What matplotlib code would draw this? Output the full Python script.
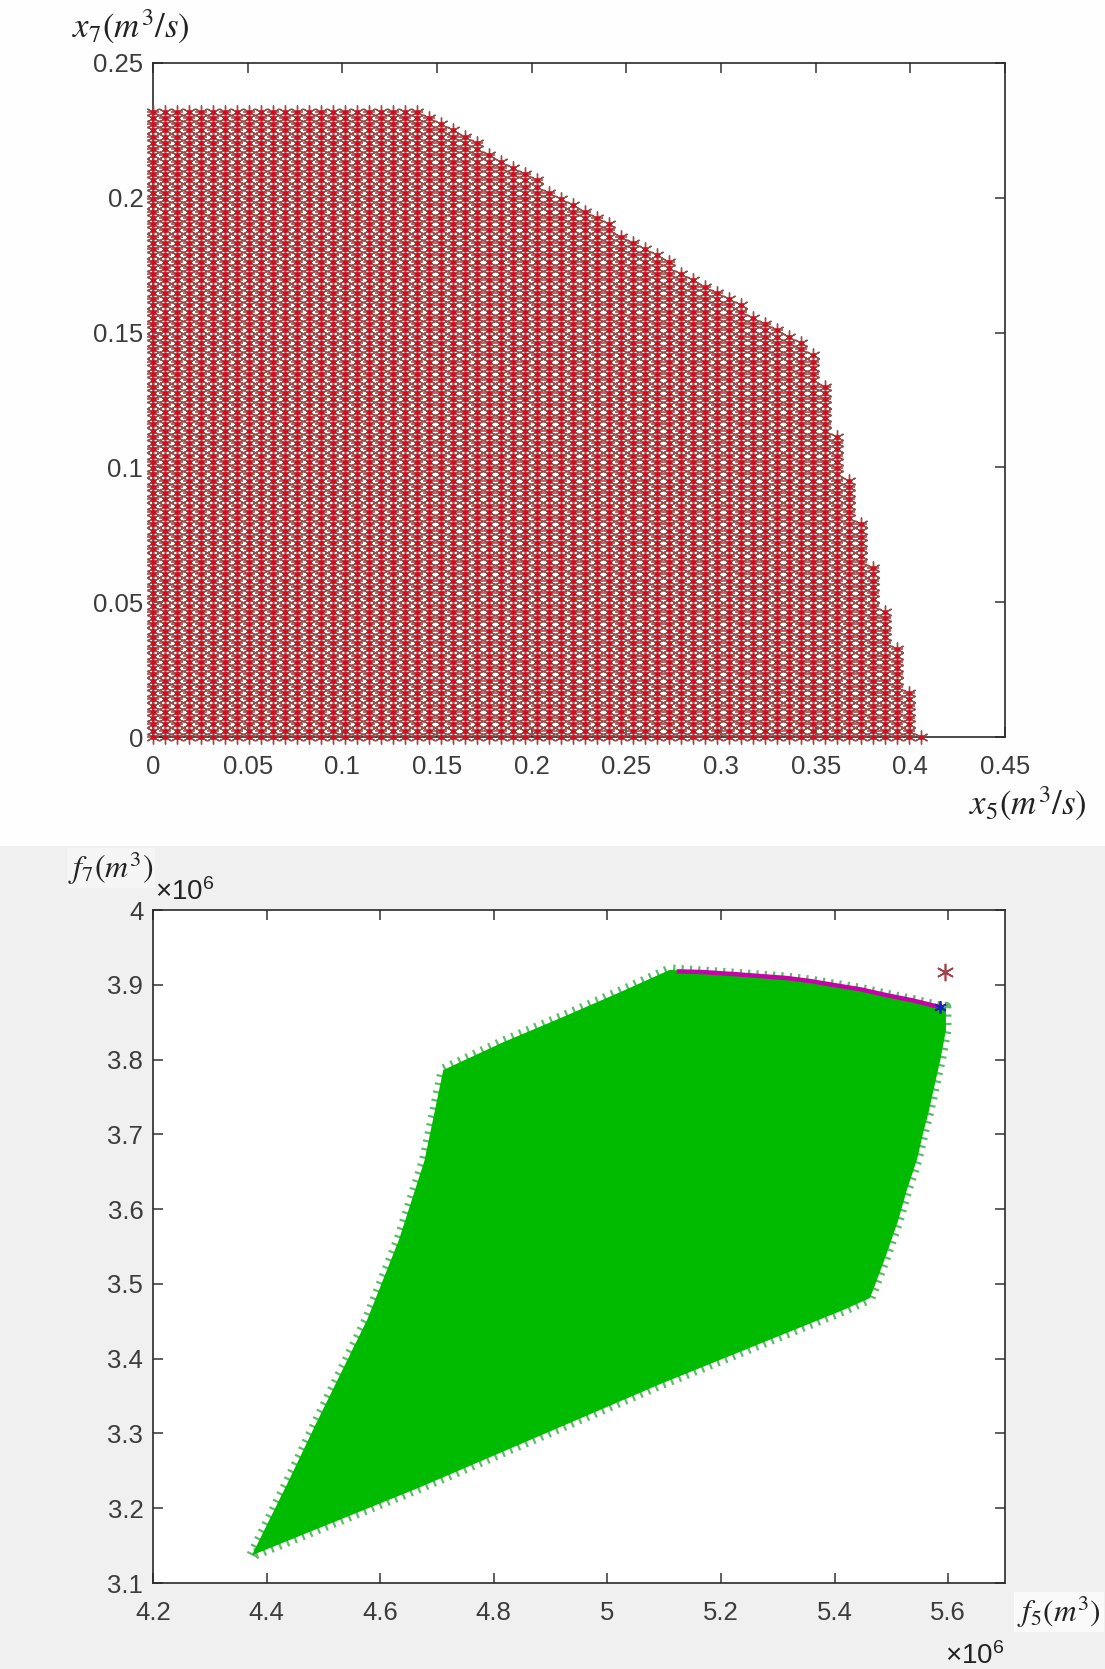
import numpy as np
import matplotlib
matplotlib.use('Agg')
import matplotlib.pyplot as plt
from matplotlib.patches import Rectangle

plt.rcParams['font.family'] = ['Liberation Sans', 'DejaVu Sans']
plt.rcParams['mathtext.fontset'] = 'stix'

W, H = 1105, 1669
TEXT = '#3c3c3c'

# top chart: feasible grid, rows missing from the top of each x5 column
x5_step = 0.00634
x7_step = 0.00232
x7_rows = 100
col_drop = [0] * 23 + [1, 2, 3, 4, 5, 7, 8, 9, 10, 11, 13, 14, 15, 16, 17, 18,
                       20, 21, 22, 23, 24, 26, 27, 28, 29, 30, 31, 33, 34, 35,
                       36, 37, 39, 44, 52, 59, 66, 73, 80, 86, 93, 100]
top_xticks = [0, 0.05, 0.1, 0.15, 0.2, 0.25, 0.3, 0.35, 0.4, 0.45]
top_xlabels = ['0', '0.05', '0.1', '0.15', '0.2', '0.25', '0.3', '0.35', '0.4', '0.45']
top_yticks = [0, 0.05, 0.1, 0.15, 0.2, 0.25]
top_ylabels = ['0', '0.05', '0.1', '0.15', '0.2', '0.25']

# bottom chart: outline of the objective cloud (units of 1e6 m3)
cloud_f5 = [4.374, 4.441, 4.485, 4.577, 4.633, 4.678, 4.711, 4.816, 4.922,
            5.022, 5.110, 5.168, 5.228, 5.316, 5.357, 5.404, 5.445, 5.492, 5.538,
            5.586, 5.596, 5.596, 5.586, 5.575, 5.565, 5.556, 5.545, 5.527, 5.512,
            5.492, 5.468, 5.462, 5.415, 5.093, 4.670, 4.374]
cloud_f7 = [3.137, 3.240, 3.310, 3.452, 3.559, 3.665, 3.786, 3.823, 3.857,
            3.890, 3.920, 3.917, 3.914, 3.909, 3.905, 3.899, 3.894, 3.886, 3.879,
            3.870, 3.870, 3.839, 3.799, 3.762, 3.728, 3.702, 3.666, 3.625, 3.585,
            3.541, 3.492, 3.481, 3.465, 3.366, 3.228, 3.137]
front_f5 = [5.122, 5.168, 5.228, 5.316, 5.357, 5.404, 5.445, 5.492, 5.538, 5.586]
front_f7 = [3.918, 3.917, 3.914, 3.909, 3.905, 3.899, 3.894, 3.886, 3.879, 3.870]
ideal_f5, ideal_f7 = 5.594, 3.917
chosen_f5, chosen_f7 = 5.586, 3.870
bot_xticks = [4.2, 4.4, 4.6, 4.8, 5, 5.2, 5.4, 5.6]
bot_xlabels = ['4.2', '4.4', '4.6', '4.8', '5', '5.2', '5.4', '5.6']
bot_yticks = [3.1, 3.2, 3.3, 3.4, 3.5, 3.6, 3.7, 3.8, 3.9, 4]
bot_ylabels = ['3.1', '3.2', '3.3', '3.4', '3.5', '3.6', '3.7', '3.8', '3.9', '4']

star = (6, 2, 0)

fig = plt.figure(figsize=(W / 100, H / 100), dpi=100, facecolor='#fefefe')
fig.add_artist(Rectangle((0, 0), 1, 1 - 846 / H, transform=fig.transFigure,
                         facecolor='#f0f0f0', edgecolor='none', zorder=-5))


def setup(ax, xticks, xlabels, yticks, ylabels):
    ax.set_xticks(xticks, xlabels)
    ax.set_yticks(yticks, ylabels)
    ax.tick_params(axis='x', direction='in', length=7, width=1.1, top=True, color='#333333',
                   labelsize=18.5, labelcolor=TEXT, pad=13)
    ax.tick_params(axis='y', direction='in', length=7, width=1.1, right=True, color='#333333',
                   labelsize=18.5, labelcolor=TEXT, pad=7)
    for s in ax.spines.values():
        s.set_linewidth(1.2)
        s.set_color('#2a2a2a')


# top chart
ax1 = fig.add_axes([153 / W, 1 - 737 / H, 852 / W, 674 / H])
xs = []
ys = []
for k, drop in enumerate(col_drop):
    for r in range(x7_rows - drop + 1):
        xs.append(k * x5_step)
        ys.append(r * x7_step)
ax1.plot(xs, ys, ls='none', marker=star, ms=10, mew=1.0, color='#96504a', clip_on=False, zorder=3)
ax1.plot(xs[::2], ys[::2], ls='none', marker='_', ms=9, mew=1.1, color='#b8303a', clip_on=False, zorder=3.05)
ax1.plot(xs, ys, ls='none', marker='o', ms=3.6, mew=0, color='#d80a20', clip_on=False, zorder=3.1)
ax1.set_xlim(0, 0.45)
ax1.set_ylim(0, 0.25)
setup(ax1, top_xticks, top_xlabels, top_yticks, top_ylabels)

# bottom chart
ax2 = fig.add_axes([153 / W, 1 - 1583 / H, 852 / W, 673 / H])
ax2.plot(cloud_f5, cloud_f7, color='#62b86c', lw=8, ls=(0, (0.2, 0.55)), zorder=2)
ax2.fill(cloud_f5, cloud_f7, color='#00bb00', lw=0, zorder=2.2)
ax2.plot(front_f5, front_f7, color='#c800aa', lw=3.2, solid_capstyle='butt', zorder=3)
ax2.plot([ideal_f5], [ideal_f7], ls='none', marker=star, ms=12.5, mew=1.2, color='#a5404a', zorder=4)
ax2.plot([chosen_f5], [chosen_f7], ls='none', marker=star, ms=9, mew=1.3, color='#1a20c0', zorder=4)
ax2.plot([chosen_f5], [chosen_f7], ls='none', marker='o', ms=4.5, mew=0, color='#1a20c0', zorder=4)
ax2.set_xlim(4.2, 5.7)
ax2.set_ylim(3.1, 4)
setup(ax2, bot_xticks, bot_xlabels, bot_yticks, bot_ylabels)


def label(x, y, s, size=23, **kw):
    fig.text(x / W, 1 - y / H, s, fontsize=size, color='#222222', ha='center', va='center', **kw)


label(131, 27, r'$x_7(m^3/s)$', size=25)
label(1028, 804, r'$x_5(m^3/s)$', size=25)
label(111, 868, r'$f_7(m^3)$', bbox=dict(facecolor='#f5f5f5', edgecolor='none', pad=1))
label(1059, 1612, r'$f_5(m^3)$', size=22.5, bbox=dict(facecolor='#fafafa', edgecolor='none', pad=2))
label(185, 892, r'$\mathregular{\times 10^{6}}$', size=20)
label(975, 1656, r'$\mathregular{\times 10^{6}}$', size=20)

fig.savefig('out.png', dpi=100, facecolor=fig.get_facecolor())
